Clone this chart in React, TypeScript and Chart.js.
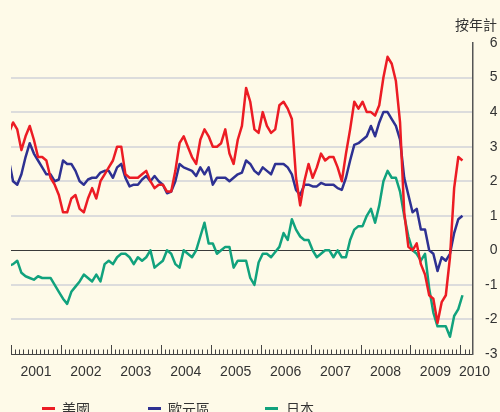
import React, { useEffect, useRef } from 'react';
import { Chart, registerables } from 'chart.js';

Chart.register(...registerables);

// Monthly year-on-year inflation, Dec 2000 .. Jan 2010 (110 months)
const FIRST_MONTH_OFFSET = -1; // Dec 2000 relative to Jan 2001

const usCPI = [
  3.4,
  3.7, 3.5, 2.9, 3.3, 3.6, 3.2, 2.7, 2.7, 2.6, 2.1, 1.9, 1.6,
  1.1, 1.1, 1.5, 1.6, 1.2, 1.1, 1.5, 1.8, 1.5, 2.0, 2.2, 2.4,
  2.6, 3.0, 3.0, 2.2, 2.1, 2.1, 2.1, 2.2, 2.3, 2.0, 1.8, 1.9,
  1.9, 1.7, 1.7, 2.3, 3.1, 3.3, 3.0, 2.7, 2.5, 3.2, 3.5, 3.3,
  3.0, 3.0, 3.1, 3.5, 2.8, 2.5, 3.2, 3.6, 4.7, 4.3, 3.5, 3.4,
  4.0, 3.6, 3.4, 3.5, 4.2, 4.3, 4.1, 3.8, 2.1, 1.3, 2.0, 2.5,
  2.1, 2.4, 2.8, 2.6, 2.7, 2.7, 2.4, 2.0, 2.8, 3.5, 4.3, 4.1,
  4.3, 4.0, 4.0, 3.9, 4.2, 5.0, 5.6, 5.4, 4.9, 3.7, 1.1, 0.1,
  0.0, 0.2, -0.4, -0.7, -1.3, -1.4, -2.1, -1.5, -1.3, -0.2, 1.8, 2.7,
  2.6,
];

const euroCPI = [
  2.6,
  2.0, 1.9, 2.2, 2.7, 3.1, 2.8, 2.6, 2.4, 2.2, 2.2, 2.0, 2.05,
  2.6, 2.5, 2.5, 2.3, 2.0, 1.9, 2.05, 2.1, 2.1, 2.25, 2.3, 2.3,
  2.1, 2.4, 2.5, 2.1, 1.85, 1.9, 1.9, 2.05, 2.15, 2.0, 2.15, 2.0,
  1.9, 1.65, 1.7, 2.0, 2.5, 2.4, 2.35, 2.3, 2.15, 2.4, 2.2, 2.4,
  1.9, 2.1, 2.1, 2.1, 2.0, 2.1, 2.2, 2.25, 2.6, 2.5, 2.3, 2.2,
  2.4, 2.3, 2.2, 2.5, 2.5, 2.5, 2.4, 2.2, 1.75, 1.6, 1.9, 1.9,
  1.85, 1.85, 1.95, 1.9, 1.9, 1.9, 1.8, 1.75, 2.1, 2.6, 3.05, 3.1,
  3.2, 3.3, 3.6, 3.3, 3.7, 4.0, 4.0, 3.8, 3.6, 3.2, 2.1, 1.6,
  1.1, 1.2, 0.6, 0.6, 0.0, -0.1, -0.6, -0.2, -0.3, -0.1, 0.5, 0.9,
  1.0,
];

const japanCPI = [
  -0.45,
  -0.4, -0.3, -0.65, -0.75, -0.8, -0.85, -0.75, -0.8, -0.8, -0.8, -1.0, -1.2,
  -1.4, -1.55, -1.2, -1.05, -0.9, -0.7, -0.8, -0.9, -0.7, -0.9, -0.4, -0.3,
  -0.4, -0.2, -0.1, -0.1, -0.2, -0.4, -0.2, -0.3, -0.2, 0.0, -0.5, -0.4,
  -0.3, 0.0, -0.1, -0.4, -0.5, 0.0, -0.1, -0.2, 0.0, 0.4, 0.8, 0.2,
  0.2, -0.1, 0.0, 0.1, 0.1, -0.5, -0.3, -0.3, -0.3, -0.8, -1.0, -0.35,
  -0.1, -0.1, -0.2, -0.05, 0.1, 0.5, 0.3, 0.9, 0.6, 0.4, 0.3, 0.3,
  0.0, -0.2, -0.1, 0.0, 0.0, -0.2, 0.0, -0.2, -0.2, 0.3, 0.6, 0.7,
  0.7, 1.0, 1.2, 0.8, 1.3, 2.0, 2.3, 2.1, 2.1, 1.7, 1.0, 0.4,
  0.0, -0.1, -0.3, -0.1, -1.1, -1.8, -2.2, -2.2, -2.2, -2.5, -1.9, -1.7,
  -1.3,
];

const seriesNames = ['美國', '歐元區', '日本'];
const yearLabels = ['2001', '2002', '2003', '2004', '2005', '2006', '2007', '2008', '2009', '2010'];
const yearLabelMonths = [6, 18, 30, 42, 54, 66, 78, 90, 102, 111.4];
const unitLabel = '按年計';

const Y_MIN = -3;
const Y_MAX = 6;
const X_MIN = 0;
const X_MAX = 110.9;

const RED = '#EC1C24';
const BLUE = '#2E3192';
const GREEN = '#11A27D';
const BG = '#FEFAE8';
const TEXT = '#333333';
const SANS = '"Liberation Sans", Arial, Helvetica, sans-serif';
const CJK = '"Noto Sans CJK TC", "Noto Sans CJK SC", sans-serif';

const toPoints = (vals: number[]) =>
  vals.map((v, i) => ({ x: i + FIRST_MONTH_OFFSET + 0.5, y: v }));

const monthTicks = {
  id: 'monthTicks',
  beforeDatasetsDraw(chart: any) {
    const { ctx, chartArea, scales } = chart;
    const x = scales.x;
    ctx.save();
    ctx.strokeStyle = '#444';
    ctx.lineWidth = 1;
    for (let m = 0; m <= Math.floor(X_MAX); m++) {
      const px = Math.round(x.getPixelForValue(m)) + 0.5;
      const len = m % 12 === 0 ? 9 : 4.5;
      ctx.beginPath();
      ctx.moveTo(px, chartArea.bottom);
      ctx.lineTo(px, chartArea.bottom - len);
      ctx.stroke();
    }
    ctx.restore();
  },
};

export default function App() {
  const ref = useRef<HTMLCanvasElement>(null);

  useEffect(() => {
    document.body.style.margin = '0';
    const colors = [RED, BLUE, GREEN];
    const series = [usCPI, euroCPI, japanCPI];
    const chart = new Chart(ref.current as HTMLCanvasElement, {
      type: 'line',
      data: {
        datasets: series.map((s, i) => ({
          label: seriesNames[i],
          data: toPoints(s),
          borderColor: colors[i],
          backgroundColor: colors[i],
          borderWidth: 2.5,
          pointRadius: 0,
          tension: 0,
          fill: false,
          borderJoinStyle: 'round' as const,
          clip: { left: 0, right: 4, top: 4, bottom: 4 },
        })),
      },
      options: {
        responsive: false,
        animation: false,
        events: [],
        layout: { padding: { left: 11, top: 43, right: 0, bottom: 0 } },
        plugins: {
          legend: { display: false },
          tooltip: { enabled: false },
        },
        scales: {
          x: {
            type: 'linear',
            min: X_MIN,
            max: X_MAX,
            bounds: 'data',
            grid: { display: false, drawTicks: false },
            border: { display: true, color: '#444', width: 1 },
            afterBuildTicks: (scale: any) => {
              scale.ticks = yearLabelMonths.map((v) => ({ value: v }));
            },
            afterFit: (scale: any) => {
              scale.height = 58;
            },
            ticks: {
              autoSkip: false,
              maxRotation: 0,
              minRotation: 0,
              padding: 10,
              color: TEXT,
              font: { family: SANS, size: 14 },
              callback: (value: any) => {
                const idx = yearLabelMonths.indexOf(Number(value));
                return idx >= 0 ? yearLabels[idx] : '';
              },
            },
          },
          y: {
            position: 'right',
            min: Y_MIN,
            max: Y_MAX,
            afterFit: (scale: any) => {
              scale.width = 25;
            },
            grid: {
              drawTicks: false,
              color: (c: any) => {
                const v = c.tick && c.tick.value;
                if (v === 0) return '#3a3a3a';
                if (v === Y_MAX || v === Y_MIN) return 'rgba(0,0,0,0)';
                return '#DCDCDC';
              },
              lineWidth: (c: any) => (c.tick && c.tick.value === 0 ? 1 : 2),
            },
            border: { display: true, color: '#555', width: 1.5 },
            ticks: {
              stepSize: 1,
              crossAlign: 'far',
              padding: 10.5,
              color: TEXT,
              font: { family: SANS, size: 14 },
            },
          },
        },
      },
      plugins: [monthTicks],
    } as any);
    return () => chart.destroy();
  }, []);

  const legend = [
    { name: seriesNames[0], color: RED, lineX: 42, textX: 62 },
    { name: seriesNames[1], color: BLUE, lineX: 148, textX: 168 },
    { name: seriesNames[2], color: GREEN, lineX: 265, textX: 286 },
  ];

  return (
    <div style={{ position: 'relative', width: 500, height: 412, background: BG, overflow: 'hidden' }}>
      <canvas ref={ref} width={500} height={412} style={{ position: 'absolute', left: 0, top: 0 }} />
      <div
        style={{
          position: 'absolute',
          left: 455,
          top: 16,
          fontFamily: CJK,
          fontSize: 14,
          lineHeight: '16px',
          color: TEXT,
          whiteSpace: 'nowrap',
        }}
      >
        {unitLabel}
      </div>
      {legend.map((l) => (
        <React.Fragment key={l.name}>
          <div
            style={{
              position: 'absolute',
              left: l.lineX,
              top: 407,
              width: 13,
              height: 2.5,
              background: l.color,
            }}
          />
          <div
            style={{
              position: 'absolute',
              left: l.textX,
              top: 400,
              fontFamily: CJK,
              fontSize: 14,
              lineHeight: '16px',
              color: TEXT,
              whiteSpace: 'nowrap',
            }}
          >
            {l.name}
          </div>
        </React.Fragment>
      ))}
    </div>
  );
}
